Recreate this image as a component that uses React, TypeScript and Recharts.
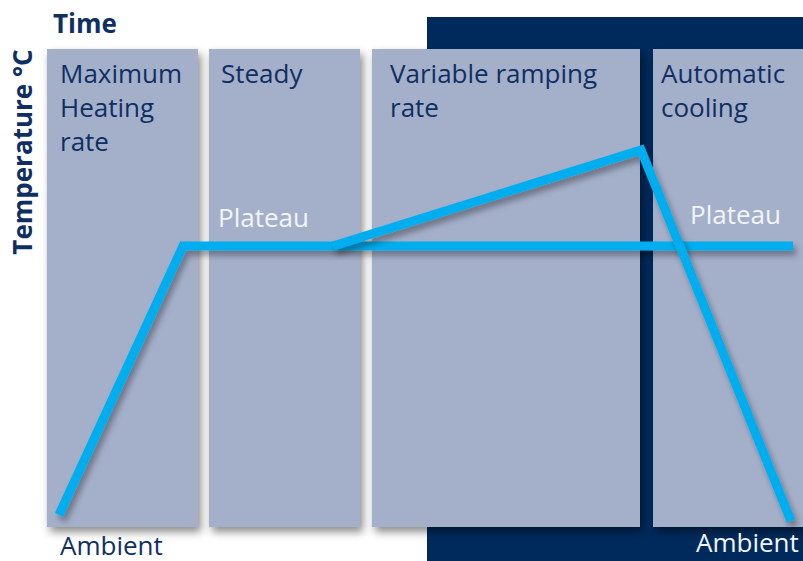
import { ComposedChart, Line, XAxis, YAxis, ReferenceArea, ReferenceDot } from "recharts";

// chart units: time runs left to right, temperature bottom to top
const W = 803;
const H = 561;

const phaseNames = ["Maximum\nHeating\nrate", "Steady", "Variable ramping\nrate", "Automatic\ncooling"];
const phaseStart = [47, 209, 372, 653];
const phaseEnd = [198, 360, 640, 803];
const phaseBottom = 34;
const phaseTop = 512;

const controlStart = 427;
const controlTop = 544;

const plateauProfile = [
  { t: 59, temp: 46 },
  { t: 183, temp: 315 },
  { t: 793, temp: 315 },
];
const rampProfile = [
  { t: 333, temp: 315 },
  { t: 641, temp: 411 },
  { t: 791, temp: 40 },
];

const notes = [
  { text: "Plateau", t: 218, temp: 334, light: true },
  { text: "Plateau", t: 690, temp: 337, light: true },
  { text: "Ambient", t: 60, temp: 6, light: false },
  { text: "Ambient", t: 696, temp: 9, light: true },
];

const labelInset = [13, 12, 18, 8];

const NAVY = "#002a5c";
const PANEL = "#a4afca";
const TEXT = "#0f2f63";
const LINE = "#00aeef";
const FONT = "'Open Sans', sans-serif";

function PhasePanel(props: any, i: number) {
  const { x, y, width, height } = props;
  const lines = phaseNames[i].split("\n");
  return (
    <g>
      <rect x={x} y={y} width={width} height={height} fill={PANEL} filter="url(#panelShadow)" />
      <text x={x + labelInset[i]} y={y + 34} fill={TEXT} fontSize={26} fontFamily={FONT}>
        {lines.map((l, k) => (
          <tspan key={k} x={x + labelInset[i]} dy={k === 0 ? 0 : 34}>
            {l}
          </tspan>
        ))}
      </text>
    </g>
  );
}

export default function App() {
  return (
    <div style={{ position: "absolute", left: 0, top: 0, width: W, height: H, background: "#fff" }}>
      <svg width={0} height={0} style={{ position: "absolute" }}>
        <defs>
          <filter id="panelShadow" x="-10%" y="-10%" width="130%" height="130%">
            <feDropShadow dx={3} dy={5} stdDeviation={4} floodColor="#000" floodOpacity={0.45} />
          </filter>
          <filter id="lineShadow" x="-10%" y="-10%" width="130%" height="130%">
            <feDropShadow dx={3} dy={5} stdDeviation={3} floodColor="#000" floodOpacity={0.35} />
          </filter>
        </defs>
      </svg>
      <ComposedChart width={W} height={H} margin={{ top: 0, right: 0, bottom: 0, left: 0 }}>
        <XAxis dataKey="t" type="number" domain={[0, W]} hide allowDataOverflow />
        <YAxis dataKey="temp" type="number" domain={[0, H]} hide allowDataOverflow />
        <ReferenceArea x1={controlStart} x2={W} y1={0} y2={controlTop} fill={NAVY} fillOpacity={1} stroke="none" />
        {phaseNames.map((_, i) => (
          <ReferenceArea
            key={i}
            x1={phaseStart[i]}
            x2={phaseEnd[i]}
            y1={phaseBottom}
            y2={phaseTop}
            shape={(p: any) => PhasePanel(p, i)}
          />
        ))}
        <Line
          data={plateauProfile}
          dataKey="temp"
          type="linear"
          stroke={LINE}
          strokeWidth={9}
          strokeLinejoin="miter"
          strokeLinecap="butt"
          dot={false}
          activeDot={false}
          isAnimationActive={false}
          filter="url(#lineShadow)"
        />
        <Line
          data={rampProfile}
          dataKey="temp"
          type="linear"
          stroke={LINE}
          strokeWidth={9}
          strokeLinejoin="miter"
          strokeLinecap="butt"
          dot={false}
          activeDot={false}
          isAnimationActive={false}
          filter="url(#lineShadow)"
        />
        {notes.map((n, i) => (
          <ReferenceDot
            key={i}
            x={n.t}
            y={n.temp}
            r={0}
            ifOverflow="visible"
            shape={(p: any) => (
              <text x={p.cx} y={p.cy} fill={n.light ? "#f2f5fa" : TEXT} fontSize={26} fontFamily={FONT}>
                {n.text}
              </text>
            )}
          />
        ))}
      </ComposedChart>
      <svg width={W} height={H} style={{ position: "absolute", left: 0, top: 0, pointerEvents: "none" }}>
        <text x={53} y={33} fill={TEXT} fontSize={26} fontWeight={700} fontFamily={FONT}>
          Time
        </text>
        <text
          transform="translate(32,152) rotate(-90)"
          textAnchor="middle"
          fill={TEXT}
          fontSize={26}
          fontWeight={700}
          fontFamily={FONT}
        >
          Temperature °C
        </text>
      </svg>
    </div>
  );
}
